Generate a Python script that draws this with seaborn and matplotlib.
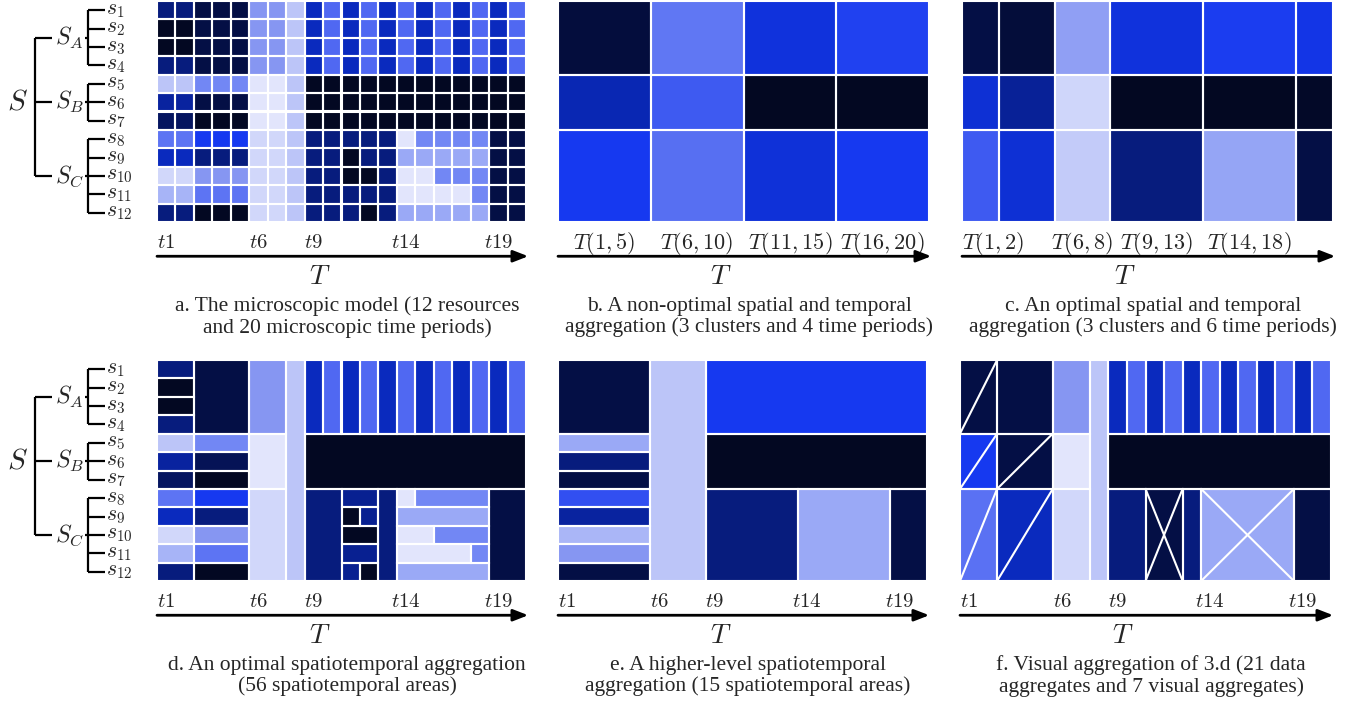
import numpy as np
import matplotlib
matplotlib.use('Agg')
import matplotlib.pyplot as plt
from matplotlib.colors import LinearSegmentedColormap
from matplotlib.patches import Rectangle
import seaborn as sns

sns.set_style('white')
plt.rcParams['mathtext.fontset'] = 'cm'
plt.rcParams['font.family'] = ['Liberation Serif', 'DejaVu Serif']

# ---------------- data ----------------
# intensity levels: 0 = lightest, 11 = darkest
palette = ['#e2e5fc', '#d1d7fa', '#bcc5f8', '#99a8f6', '#8696f2', '#7287f4',
           '#5068f2', '#1538f0', '#0a2ac0', '#071c7e', '#040f45', '#030822']

resources = ['$s_{1}$', '$s_{2}$', '$s_{3}$', '$s_{4}$', '$s_{5}$', '$s_{6}$',
             '$s_{7}$', '$s_{8}$', '$s_{9}$', '$s_{10}$', '$s_{11}$', '$s_{12}$']
clusters = ['$S_A$', '$S_B$', '$S_C$']
cluster_first = [0, 4, 7]
cluster_size = [4, 3, 5]

micro_ticks = ['$t1$', '$t6$', '$t9$', '$t14$', '$t19$']
micro_tick_cols = [0, 5, 8, 13, 18]

# panel a: 12 resources x 20 time periods
micro = [
    [9, 9, 10, 10, 10, 4, 4, 2, 8, 6, 8, 6, 8, 6, 8, 6, 8, 6, 8, 6],
    [11, 11, 10, 10, 10, 4, 4, 2, 8, 6, 8, 6, 8, 6, 8, 6, 8, 6, 8, 6],
    [11, 11, 10, 10, 10, 4, 4, 2, 8, 6, 8, 6, 8, 6, 8, 6, 8, 6, 8, 6],
    [9, 9, 10, 10, 10, 4, 4, 2, 8, 6, 8, 6, 8, 6, 8, 6, 8, 6, 8, 6],
    [2, 2, 5, 5, 5, 0, 0, 2, 11, 11, 11, 11, 11, 11, 11, 11, 11, 11, 11, 11],
    [8.5, 8.5, 10, 10, 10, 0, 0, 2, 11, 11, 11, 11, 11, 11, 11, 11, 11, 11, 11, 11],
    [9.5, 9.5, 11, 11, 11, 0, 0, 2, 11, 11, 11, 11, 11, 11, 11, 11, 11, 11, 11, 11],
    [5.6, 5.6, 7, 7, 7, 1, 1, 2, 9, 9, 9, 9, 9, 0, 5, 5, 5, 5, 10, 10],
    [8, 8, 9, 9, 9, 1, 1, 2, 9, 9, 11, 9, 9, 3, 3, 3, 3, 3, 10, 10],
    [1, 1, 4, 4, 4, 1, 1, 2, 9, 9, 11, 11, 9, 0, 0, 5, 5, 5, 10, 10],
    [2.6, 2.6, 5.6, 5.6, 5.6, 1, 1, 2, 9, 9, 9, 9, 9, 0, 0, 0, 0, 5, 10, 10],
    [9, 9, 11, 11, 11, 1, 1, 2, 9, 9, 9, 11, 9, 3, 3, 3, 3, 3, 10, 10],
]

# panel b: 3 clusters x 4 periods
periods_b_start = [0, 5, 10, 15]
periods_b_len = [5, 5, 5, 5]
periods_b_labels = ['$T(1,5)$', '$T(6,10)$', '$T(11,15)$', '$T(16,20)$']
values_b = [
    [10.2, 5.5, 7.4, 6.8],
    [8.2, 6.3, 11, 11],
    [7.0, 5.8, 7.5, 7.0],
]

# panel c: 3 clusters x 6 periods
periods_c_start = [0, 2, 5, 8, 13, 18]
periods_c_len = [2, 3, 3, 5, 5, 2]
periods_c_labels = ['$T(1,2)$', '', '$T(6,8)$', '$T(9,13)$', '$T(14,18)$', '']
values_c = [
    [10.0, 10.3, 3.5, 7.4, 6.9, 7.2],
    [7.6, 8.6, 1.1, 11, 11, 10.8],
    [6.3, 7.6, 1.7, 9.0, 3.2, 10.0],
]

# panels d, e, f: spatiotemporal areas (first period, n periods, first resource, n resources, level)
areas_d = [
    (0, 2, 0, 1, 9), (0, 2, 1, 1, 11), (0, 2, 2, 1, 11), (0, 2, 3, 1, 9),
    (0, 2, 4, 1, 2), (0, 2, 5, 1, 8.5), (0, 2, 6, 1, 9.5), (0, 2, 7, 1, 5.6),
    (0, 2, 8, 1, 8), (0, 2, 9, 1, 1), (0, 2, 10, 1, 2.6), (0, 2, 11, 1, 9),
    (2, 3, 0, 4, 10), (2, 3, 4, 1, 5), (2, 3, 5, 1, 9.7), (2, 3, 6, 1, 11),
    (2, 3, 7, 1, 7), (2, 3, 8, 1, 9), (2, 3, 9, 1, 4), (2, 3, 10, 1, 5.6),
    (2, 3, 11, 1, 11),
    (5, 2, 0, 4, 4), (5, 2, 4, 3, 0), (5, 2, 7, 5, 1),
    (7, 1, 0, 12, 2),
    (8, 1, 0, 4, 8), (9, 1, 0, 4, 6), (10, 1, 0, 4, 8), (11, 1, 0, 4, 6),
    (12, 1, 0, 4, 8), (13, 1, 0, 4, 6), (14, 1, 0, 4, 8), (15, 1, 0, 4, 6),
    (16, 1, 0, 4, 8), (17, 1, 0, 4, 6), (18, 1, 0, 4, 8), (19, 1, 0, 4, 6),
    (8, 12, 4, 3, 11),
    (8, 2, 7, 5, 9),
    (10, 2, 7, 1, 8.7), (10, 1, 8, 1, 11), (11, 1, 8, 1, 8.7), (10, 2, 9, 1, 11),
    (10, 2, 10, 1, 8.7), (10, 1, 11, 1, 8.7), (11, 1, 11, 1, 11),
    (12, 1, 7, 5, 9),
    (13, 1, 7, 1, 0), (14, 4, 7, 1, 5), (13, 5, 8, 1, 3), (13, 2, 9, 1, 0),
    (15, 3, 9, 1, 5), (13, 4, 10, 1, 0), (17, 1, 10, 1, 5), (13, 5, 11, 1, 3),
    (18, 2, 7, 5, 10),
]

areas_e = [
    (0, 5, 0, 4, 10), (0, 5, 4, 1, 3), (0, 5, 5, 1, 9), (0, 5, 6, 1, 10),
    (0, 5, 7, 1, 6.5), (0, 5, 8, 1, 8.5), (0, 5, 9, 1, 2.5), (0, 5, 10, 1, 4),
    (0, 5, 11, 1, 10),
    (5, 3, 0, 12, 2),
    (8, 12, 0, 4, 7), (8, 12, 4, 3, 11),
    (8, 5, 7, 5, 9), (13, 5, 7, 5, 3), (18, 2, 7, 5, 10),
]

# panel f: visual aggregates ('/' single diagonal, 'x' crossed)
areas_f = [
    (0, 2, 0, 4, 10, '/'), (0, 2, 4, 3, 7, '/'), (0, 2, 7, 5, 5.7, '/'),
    (2, 3, 0, 4, 10, ''), (2, 3, 4, 3, 10, '/'), (2, 3, 7, 5, 8, '/'),
    (5, 2, 0, 4, 4, ''), (5, 2, 4, 3, 0, ''), (5, 2, 7, 5, 1, ''),
    (7, 1, 0, 12, 2, ''),
    (8, 1, 0, 4, 8, ''), (9, 1, 0, 4, 6, ''), (10, 1, 0, 4, 8, ''), (11, 1, 0, 4, 6, ''),
    (12, 1, 0, 4, 8, ''), (13, 1, 0, 4, 6, ''), (14, 1, 0, 4, 8, ''), (15, 1, 0, 4, 6, ''),
    (16, 1, 0, 4, 8, ''), (17, 1, 0, 4, 6, ''), (18, 1, 0, 4, 8, ''), (19, 1, 0, 4, 6, ''),
    (8, 12, 4, 3, 11, ''),
    (8, 2, 7, 5, 9, ''), (10, 2, 7, 5, 10, 'x'), (12, 1, 7, 5, 9, ''),
    (13, 5, 7, 5, 3, 'x'), (18, 2, 7, 5, 10, ''),
]

captions = [
    'a. The microscopic model (12 resources\nand 20 microscopic time periods)',
    'b. A non-optimal spatial and temporal\naggregation (3 clusters and 4 time periods)',
    'c. An optimal spatial and temporal\naggregation (3 clusters and 6 time periods)',
    'd. An optimal spatiotemporal aggregation\n(56 spatiotemporal areas)',
    'e. A higher-level spatiotemporal\naggregation (15 spatiotemporal areas)',
    'f. Visual aggregation of 3.d (21 data\naggregates and 7 visual aggregates)',
]

# ---------------- drawing ----------------
cmap = LinearSegmentedColormap.from_list('agg', palette)
NR, NC = 12, 20
W, H = 1359, 706
fig = plt.figure(figsize=(W / 100, H / 100), dpi=100)


def make_ax(x0, y0, x1, y1):
    return fig.add_axes([x0 / W, 1 - y1 / H, (x1 - x0) / W, (y1 - y0) / H])


def draw_areas(ax, areas):
    mat = np.zeros((NR, NC))
    for a in areas:
        c0, nc, r0, nr, v = a[:5]
        mat[r0:r0 + nr, c0:c0 + nc] = v
    sns.heatmap(mat, cmap=cmap, vmin=0, vmax=11, cbar=False, ax=ax,
                xticklabels=False, yticklabels=False)
    for a in areas:
        c0, nc, r0, nr = a[:4]
        ax.add_patch(Rectangle((c0, r0), nc, nr, fill=False, ec='white', lw=1.5))
        mark = a[5] if len(a) > 5 else ''
        if mark in ('/', 'x'):
            ax.plot([c0, c0 + nc], [r0 + nr, r0], color='white', lw=1.5)
        if mark == 'x':
            ax.plot([c0, c0 + nc], [r0, r0 + nr], color='white', lw=1.5)
    ax.set_xlim(0, NC)
    ax.set_ylim(NR, 0)
    for s in ax.spines.values():
        s.set_visible(False)


def decorate(ax, tick_pos, tick_labels, caption, tick_fs=14, first_left=False):
    for i, (p, lab) in enumerate(zip(tick_pos, tick_labels)):
        if not lab:
            continue
        if first_left and i == 0:
            ax.text(p, NR + 1.15, lab, ha='left', va='center', fontsize=tick_fs)
        else:
            ax.text(p, NR + 1.15, lab, ha='center', va='center', fontsize=tick_fs)
    ax.annotate('', xy=(1.006, -0.155), xytext=(0, -0.155), xycoords='axes fraction',
                arrowprops=dict(arrowstyle='-|>,head_length=0.9,head_width=0.35',
                                lw=2, color='black', shrinkA=0, shrinkB=0))
    ax.text(0.44, -0.25, '$T$', transform=ax.transAxes, ha='center', va='center',
            fontsize=20)
    ax.text(0.515, -0.43, caption, transform=ax.transAxes, ha='center', va='center',
            fontsize=15.5, linespacing=1.1)


def draw_tree(ax):
    kw = dict(color='black', lw=1.6, clip_on=False, solid_capstyle='butt')
    xs_main, xs_tick, xs_lab = -6.61, -5.69, -5.55
    xs_sub, xs_stub, xs_stick, xs_slab = -3.74, -3.88, -2.82, -2.75
    mids = [f + n / 2 for f, n in zip(cluster_first, cluster_size)]
    ax.plot([xs_main, xs_main], [mids[0], mids[-1]], **kw)
    ax.text(-7.55, mids[1], '$S$', ha='center', va='center', fontsize=21)
    for lab, f, n, m in zip(clusters, cluster_first, cluster_size, mids):
        ax.plot([xs_main, xs_tick], [m, m], **kw)
        ax.text(xs_lab, m, lab, ha='left', va='center', fontsize=17)
        ax.plot([xs_sub, xs_sub], [f + 0.5, f + n - 0.5], **kw)
        ax.plot([xs_stub, xs_sub], [m, m], **kw)
        for r in range(f, f + n):
            ax.plot([xs_sub, xs_stick], [r + 0.5, r + 0.5], **kw)
            ax.text(xs_slab, r + 0.5, resources[r], ha='left', va='center', fontsize=15.5)


mid_cols = [c + 0.5 for c in micro_tick_cols]

# panel a
ax_a = make_ax(157, 1, 526, 222)
areas_a = [(c, 1, r, 1, micro[r][c]) for r in range(NR) for c in range(NC)]
draw_areas(ax_a, areas_a)
draw_tree(ax_a)
decorate(ax_a, mid_cols, micro_ticks, captions[0], tick_fs=15)

# panel b
ax_b = make_ax(558, 1, 929, 222)
areas_b = [(periods_b_start[j], periods_b_len[j], cluster_first[i], cluster_size[i], values_b[i][j])
           for i in range(3) for j in range(4)]
draw_areas(ax_b, areas_b)
decorate(ax_b, [s + l / 2 for s, l in zip(periods_b_start, periods_b_len)],
         periods_b_labels, captions[1], tick_fs=16)

# panel c
ax_c = make_ax(962, 1, 1333, 222)
areas_c = [(periods_c_start[j], periods_c_len[j], cluster_first[i], cluster_size[i], values_c[i][j])
           for i in range(3) for j in range(6)]
draw_areas(ax_c, areas_c)
decorate(ax_c, [0] + [s + l / 2 for s, l in zip(periods_c_start[1:], periods_c_len[1:])],
         periods_c_labels, captions[2], tick_fs=16, first_left=True)

# panel d
ax_d = make_ax(157, 360, 526, 581)
draw_areas(ax_d, areas_d)
draw_tree(ax_d)
decorate(ax_d, mid_cols, micro_ticks, captions[3], tick_fs=15)

# panel e
ax_e = make_ax(558, 360, 927, 581)
draw_areas(ax_e, areas_e)
decorate(ax_e, mid_cols, micro_ticks, captions[4], tick_fs=15)

# panel f
ax_f = make_ax(960, 360, 1331, 581)
draw_areas(ax_f, areas_f)
decorate(ax_f, mid_cols, micro_ticks, captions[5], tick_fs=15)

fig.savefig('out.png', dpi=100)
